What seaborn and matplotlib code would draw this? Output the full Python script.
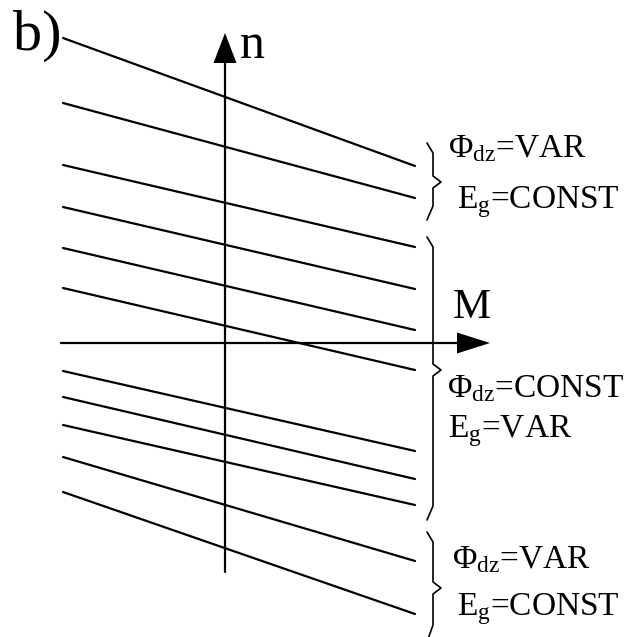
import numpy as np
import pandas as pd
import matplotlib
matplotlib.use("Agg")
import matplotlib.pyplot as plt
import seaborn as sns

sns.set_theme(style="white")
plt.rcParams["font.family"] = ["Liberation Serif", "DejaVu Serif"]
plt.rcParams["text.color"] = "black"
plt.rcParams["mathtext.fontset"] = "custom"
plt.rcParams["mathtext.rm"] = "Liberation Serif"
plt.rcParams["mathtext.it"] = "Liberation Serif"

# Mechanical characteristics n(M): each line runs from M_left to M_right
M_left = -16.2
M_right = 19.0
n_left = [30.5, 24.0, 17.8, 13.6, 9.5, 5.5, -2.8, -5.4, -8.2, -11.4, -14.9]
n_right = [17.7, 14.5, 9.6, 5.4, 1.3, -2.7, -10.8, -13.6, -16.2, -21.8, -27.1]

rows = []
for i, (a, b) in enumerate(zip(n_left, n_right)):
    rows.append({"line": i, "M": M_left, "n": a})
    rows.append({"line": i, "M": M_right, "n": b})
df = pd.DataFrame(rows)

fig = plt.figure(figsize=(6.25, 6.37), dpi=100)
ax = fig.add_axes([0, 0, 1, 1])
ax.set_xlim(-22.5, 40.0)
ax.set_ylim(-29.4, 34.3)
ax.axis("off")

sns.lineplot(data=df, x="M", y="n", units="line", estimator=None,
             color="black", lw=1.6, ax=ax, legend=False)

# Coordinate axes with filled arrowheads
ax.plot([0, 0], [-22.9, 28.0], color="black", lw=1.6)
ax.fill([0, -1.15, 1.15], [31.0, 28.0, 28.0], color="black", lw=0)
ax.plot([-16.4, 23.2], [0, 0], color="black", lw=1.6)
ax.fill([26.5, 23.2, 23.2], [0, 1.05, -1.05], color="black", lw=0)


def brace(top, tip, bottom, clip_bottom=False):
    x0, x1, xt = 20.2, 20.8, 21.6
    xs = [x0, x1, x1, xt, x1, x1]
    ys = [top, top - 1.0, tip + 0.6, tip, tip - 0.6, bottom + 1.4]
    xs.append(x0 + 0.1 if clip_bottom else x0)
    ys.append(bottom)
    ax.plot(xs, ys, color="black", lw=1.2, solid_joinstyle="round")


brace(20.0, 16.1, 12.3)
brace(10.6, -2.7, -17.7)
brace(-18.9, -24.5, -29.6, clip_bottom=True)

fs = 24
ax.text(22.3, 18.6, r"Φ$_{\mathrm{dz}}$=VAR", fontsize=fs, ha="left", va="baseline")
ax.text(23.2, 13.5, r"E$_{\mathrm{g}}$=CONST", fontsize=fs, ha="left", va="baseline")
ax.text(22.2, -5.4, r"Φ$_{\mathrm{dz}}$=CONST", fontsize=fs, ha="left", va="baseline")
ax.text(22.3, -9.4, r"E$_{\mathrm{g}}$=VAR", fontsize=fs, ha="left", va="baseline")
ax.text(22.7, -22.5, r"Φ$_{\mathrm{dz}}$=VAR", fontsize=fs, ha="left", va="baseline")
ax.text(23.2, -27.2, r"E$_{\mathrm{g}}$=CONST", fontsize=fs, ha="left", va="baseline")

ax.text(-21.2, 29.3, "b)", fontsize=42, ha="left", va="baseline")
ax.text(1.5, 28.5, "n", fontsize=36, ha="left", va="baseline")
ax.text(22.8, 2.5, "M", fontsize=31, ha="left", va="baseline")

fig.savefig("out.png", dpi=100, facecolor="white")
